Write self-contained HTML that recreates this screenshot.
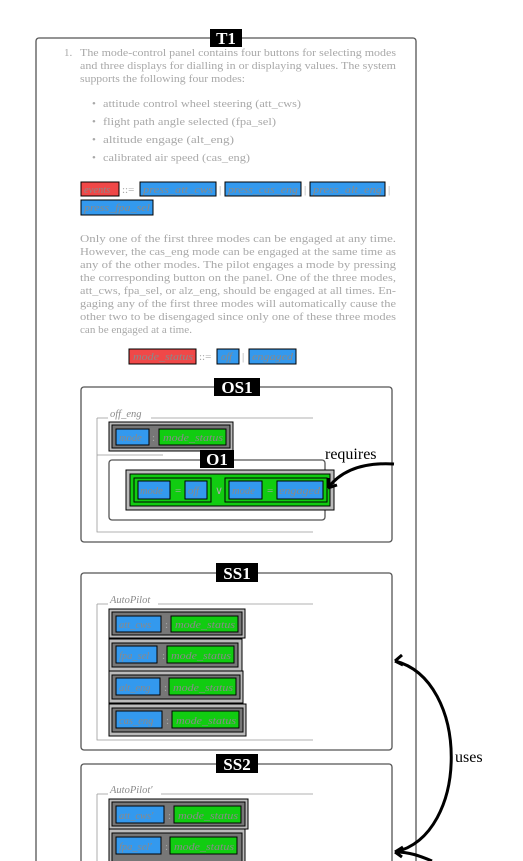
<!DOCTYPE html>
<html><head><meta charset="utf-8"><style>
body{margin:0;background:#fff;width:523px;height:861px;overflow:hidden}
svg{display:block}
.t{font-family:"Liberation Serif",serif;font-size:11px;fill:#a8a8a8}
.i{font-family:"Liberation Serif",serif;font-style:italic;font-size:10.5px;fill:#8a8a8a}
.h{font-family:"Liberation Serif",serif;font-weight:bold;font-size:17px;fill:#fff}
.b{fill:#3399ee;stroke:#000;stroke-width:1}
.r{fill:#f04848;stroke:#000;stroke-width:1}
.g{fill:#11cc11;stroke:#000;stroke-width:1}
.fr{fill:none;stroke:#555;stroke-width:1.3}
.gl{stroke:#999;stroke-width:0.8;fill:none}
</style></head><body>
<svg width="523" height="861" viewBox="0 0 523 861">
<rect x="36" y="38" width="380" height="840" rx="3" class="fr"/>
<rect x="210" y="29" width="32" height="18" fill="#000"/>
<text x="226" y="44" class="h" text-anchor="middle">T1</text>

<g>
<text x="64" y="56" class="t">1.</text>
<text x="80" y="56" class="t" textLength="316" lengthAdjust="spacingAndGlyphs">The mode-control panel contains four buttons for selecting modes</text>
<text x="80" y="69" class="t" textLength="316" lengthAdjust="spacingAndGlyphs">and three displays for dialling in or displaying values. The system</text>
<text x="80" y="82" class="t" textLength="165" lengthAdjust="spacingAndGlyphs">supports the following four modes:</text>
<text x="92" y="107" class="t">•</text><text x="103" y="107" class="t" textLength="198" lengthAdjust="spacingAndGlyphs">attitude control wheel steering (att_cws)</text>
<text x="92" y="125" class="t">•</text><text x="103" y="125" class="t" textLength="173" lengthAdjust="spacingAndGlyphs">flight path angle selected (fpa_sel)</text>
<text x="92" y="143" class="t">•</text><text x="103" y="143" class="t" textLength="131" lengthAdjust="spacingAndGlyphs">altitude engage (alt_eng)</text>
<text x="92" y="161" class="t">•</text><text x="103" y="161" class="t" textLength="147" lengthAdjust="spacingAndGlyphs">calibrated air speed (cas_eng)</text>
</g>

<g>
<rect x="81" y="182" width="38" height="14" class="r"/><text x="84" y="193" class="i">events</text>
<text x="122" y="193" class="t">::=</text>
<rect x="140" y="182" width="76" height="14" class="b"/><text x="143" y="193" class="i" textLength="70" lengthAdjust="spacingAndGlyphs">press_att_cws</text>
<text x="219" y="193" class="t">|</text>
<rect x="225" y="182" width="76" height="14" class="b"/><text x="228" y="193" class="i" textLength="70" lengthAdjust="spacingAndGlyphs">press_cas_eng</text>
<text x="304" y="193" class="t">|</text>
<rect x="310" y="182" width="75" height="14" class="b"/><text x="313" y="193" class="i" textLength="69" lengthAdjust="spacingAndGlyphs">press_alt_eng</text>
<text x="388" y="193" class="t">|</text>
<rect x="81" y="200" width="72" height="15" class="b"/><text x="84" y="211" class="i" textLength="66" lengthAdjust="spacingAndGlyphs">press_fpa_sel</text>
</g>

<g>
<text x="80" y="242" class="t" textLength="316" lengthAdjust="spacingAndGlyphs">Only one of the first three modes can be engaged at any time.</text>
<text x="80" y="255" class="t" textLength="316" lengthAdjust="spacingAndGlyphs">However, the cas_eng mode can be engaged at the same time as</text>
<text x="80" y="268" class="t" textLength="316" lengthAdjust="spacingAndGlyphs">any of the other modes. The pilot engages a mode by pressing</text>
<text x="80" y="281" class="t" textLength="316" lengthAdjust="spacingAndGlyphs">the corresponding button on the panel. One of the three modes,</text>
<text x="80" y="294" class="t" textLength="316" lengthAdjust="spacingAndGlyphs">att_cws, fpa_sel, or alz_eng, should be engaged at all times. En-</text>
<text x="80" y="307" class="t" textLength="316" lengthAdjust="spacingAndGlyphs">gaging any of the first three modes will automatically cause the</text>
<text x="80" y="320" class="t" textLength="316" lengthAdjust="spacingAndGlyphs">other two to be disengaged since only one of these three modes</text>
<text x="80" y="333" class="t" textLength="112" lengthAdjust="spacingAndGlyphs">can be engaged at a time.</text>
</g>

<g>
<rect x="129" y="349" width="67" height="15" class="r"/><text x="133" y="360" class="i" textLength="60" lengthAdjust="spacingAndGlyphs">mode_status</text>
<text x="199" y="360" class="t">::=</text>
<rect x="217" y="349" width="22" height="15" class="b"/><text x="221" y="360" class="i">off</text>
<text x="242" y="360" class="t">|</text>
<rect x="249" y="349" width="47" height="15" class="b"/><text x="252" y="360" class="i" textLength="41" lengthAdjust="spacingAndGlyphs">engaged</text>
</g>

<g>
<rect x="81" y="387" width="311" height="155" rx="3" class="fr"/>
<rect x="214" y="378" width="46" height="18" fill="#000"/>
<text x="237" y="393" class="h" text-anchor="middle">OS1</text>
<path d="M97 418 H108 M151 418 H313 M97 418 V532 H313 M97 455 H163" class="gl"/>
<text x="110" y="417" class="i" font-size="9">off_eng</text>
<rect x="109" y="422" width="124" height="29" fill="#bbb" stroke="#000"/>
<rect x="112" y="425" width="118" height="23" fill="#777" stroke="#000"/>
<rect x="116" y="429" width="33" height="16" class="b"/><text x="119" y="441" class="i">mode</text>
<text x="152" y="441" class="t">:</text>
<rect x="159" y="429" width="67" height="16" class="g"/><text x="163" y="441" class="i" textLength="60" lengthAdjust="spacingAndGlyphs">mode_status</text>
<rect x="109" y="460" width="216" height="60" rx="3" class="fr"/>
<rect x="200" y="450" width="34" height="18" fill="#000"/>
<text x="217" y="465" class="h" text-anchor="middle">O1</text>
<rect x="126" y="470" width="208" height="40" fill="#bbb" stroke="#000"/>
<rect x="130" y="474" width="200" height="32" class="g"/>
<rect x="134" y="478" width="77" height="24" fill="none" stroke="#000"/>
<rect x="225" y="478" width="102" height="24" fill="none" stroke="#000"/>
<rect x="138" y="481" width="32" height="18" class="b"/><text x="140" y="494" class="i">mode</text>
<text x="175" y="494" class="t">=</text>
<rect x="185" y="481" width="22" height="18" class="b"/><text x="188" y="494" class="i">off</text>
<text x="215" y="494" class="t">∨</text>
<rect x="229" y="481" width="33" height="18" class="b"/><text x="232" y="494" class="i">mode</text>
<text x="267" y="494" class="t">=</text>
<rect x="277" y="481" width="46" height="18" class="b"/><text x="279" y="494" class="i" textLength="41" lengthAdjust="spacingAndGlyphs">engaged</text>
</g>
<text x="325" y="459" font-family="Liberation Serif,serif" font-size="16" fill="#000">requires</text>
<path d="M394 464 C360 462 340 472 328 488 M328 488 l1 -10 M328 488 l9 -3" fill="none" stroke="#000" stroke-width="3"/>

<g>
<rect x="81" y="573" width="311" height="177" rx="3" class="fr"/>
<rect x="216" y="563" width="42" height="19" fill="#000"/>
<text x="237" y="579" class="h" text-anchor="middle">SS1</text>
<path d="M97 604 H108 M158 604 H313 M97 604 V740 H313" class="gl"/>
<text x="110" y="603" class="i" font-size="9">AutoPilot</text>
<rect x="109" y="609" width="136" height="29" fill="#bbb" stroke="#000"/><rect x="112" y="612" width="130" height="23" fill="#777" stroke="#000"/>
<rect x="116" y="616" width="45" height="16" class="b"/><text x="119" y="628" class="i">att_cws</text><text x="165" y="628" class="t">:</text>
<rect x="171" y="616" width="67" height="16" class="g"/><text x="175" y="628" class="i" textLength="60" lengthAdjust="spacingAndGlyphs">mode_status</text>
<rect x="109" y="639" width="133" height="32" fill="#bbb" stroke="#000"/><rect x="112" y="643" width="126" height="24" fill="#777" stroke="#000"/>
<rect x="116" y="646" width="41" height="17" class="b"/><text x="119" y="659" class="i">fpa_sel</text><text x="162" y="659" class="t">:</text>
<rect x="167" y="646" width="67" height="17" class="g"/><text x="171" y="659" class="i" textLength="60" lengthAdjust="spacingAndGlyphs">mode_status</text>
<rect x="109" y="671" width="134" height="32" fill="#bbb" stroke="#000"/><rect x="112" y="675" width="128" height="24" fill="#777" stroke="#000"/>
<rect x="116" y="678" width="44" height="17" class="b"/><text x="119" y="691" class="i">alt_eng</text><text x="164" y="691" class="t">:</text>
<rect x="169" y="678" width="67" height="17" class="g"/><text x="173" y="691" class="i" textLength="60" lengthAdjust="spacingAndGlyphs">mode_status</text>
<rect x="109" y="704" width="137" height="32" fill="#bbb" stroke="#000"/><rect x="112" y="708" width="131" height="24" fill="#777" stroke="#000"/>
<rect x="116" y="711" width="46" height="17" class="b"/><text x="119" y="724" class="i">cas_eng</text><text x="166" y="724" class="t">:</text>
<rect x="172" y="711" width="67" height="17" class="g"/><text x="176" y="724" class="i" textLength="60" lengthAdjust="spacingAndGlyphs">mode_status</text>
</g>

<g>
<rect x="81" y="764" width="311" height="120" rx="3" class="fr"/>
<rect x="216" y="754" width="42" height="19" fill="#000"/>
<text x="237" y="770" class="h" text-anchor="middle">SS2</text>
<path d="M97 794 H108 M161 794 H313 M97 794 V870" class="gl"/>
<text x="110" y="793" class="i" font-size="9">AutoPilot′</text>
<rect x="109" y="799" width="139" height="30" fill="#bbb" stroke="#000"/><rect x="112" y="802" width="133" height="24" fill="#777" stroke="#000"/>
<rect x="116" y="806" width="48" height="17" class="b"/><text x="119" y="819" class="i">att_cws′</text><text x="168" y="819" class="t">:</text>
<rect x="174" y="806" width="67" height="17" class="g"/><text x="178" y="819" class="i" textLength="60" lengthAdjust="spacingAndGlyphs">mode_status</text>
<rect x="109" y="829" width="136" height="40" fill="#bbb" stroke="#000"/><rect x="112" y="833" width="130" height="30" fill="#777" stroke="#000"/>
<rect x="116" y="837" width="45" height="17" class="b"/><text x="119" y="850" class="i">fpa_sel′</text><text x="165" y="850" class="t">:</text>
<rect x="170" y="837" width="67" height="17" class="g"/><text x="174" y="850" class="i" textLength="60" lengthAdjust="spacingAndGlyphs">mode_status</text>
</g>

<path d="M395 661 C470 680 470 835 395 852 M395 661 l7 -6 M395 661 l8 4 M395 852 l8 -5 M395 852 l7 5 M395 852 C410 852 420 856 432 861" fill="none" stroke="#000" stroke-width="3"/>
<text x="455" y="762" font-family="Liberation Serif,serif" font-size="16" fill="#000">uses</text>
</svg>
</body></html>
